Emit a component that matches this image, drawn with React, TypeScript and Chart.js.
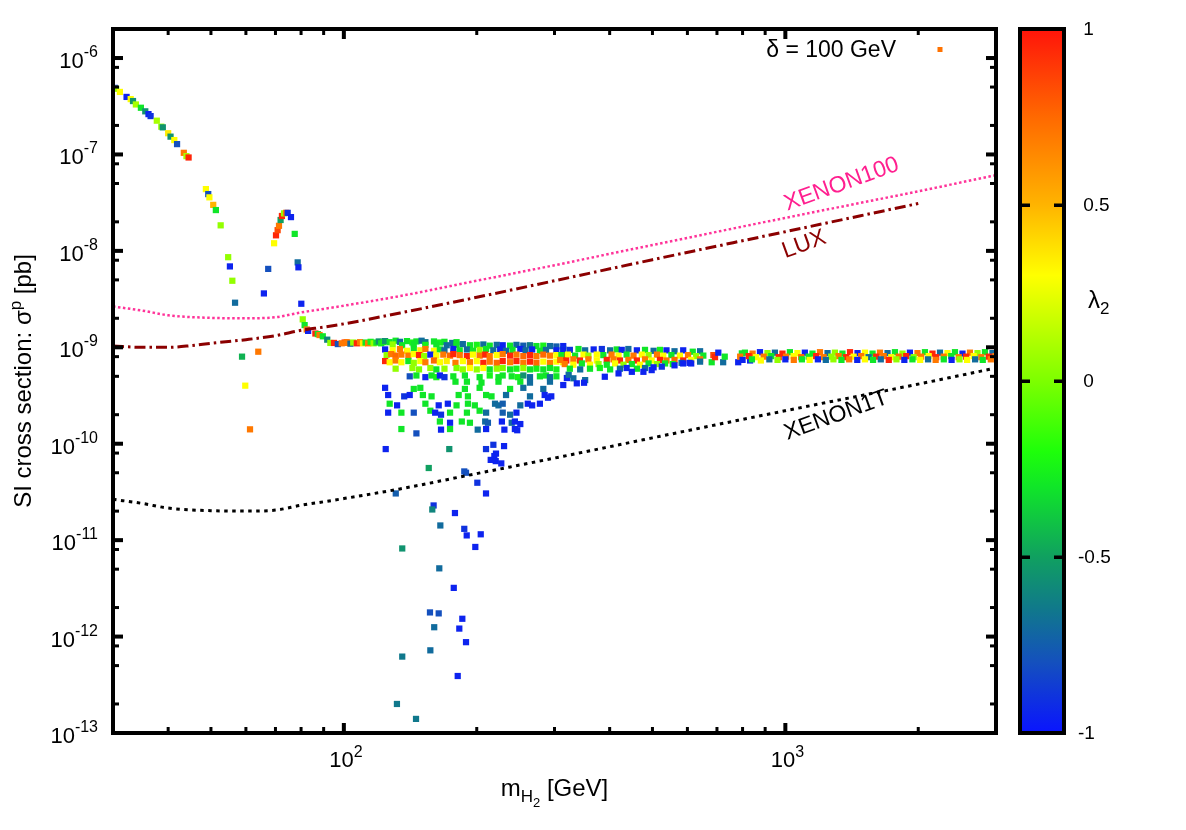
import React, { useEffect, useRef } from 'react';
import { Chart, registerables } from 'chart.js';

Chart.register(...registerables);

const FONT = '"Liberation Sans", Arial, Helvetica, sans-serif';

// Each point: [m_H2 (GeV), sigma_p (pb), lambda_2]
const steepBranch: number[][] = [
  [30.3, 4.9e-7, -0.95], [30.5, 4.8e-7, 0.05], [31.1, 4.45e-7, 0.3], [32.2, 3.95e-7, -0.95],
  [32.9, 3.75e-7, 0.3], [33.3, 3.58e-7, -0.55], [33.8, 3.3e-7, 0.1], [34.7, 3.05e-7, -0.3],
  [35.5, 2.8e-7, -0.55], [36.1, 2.62e-7, -0.95], [36.5, 2.5e-7, -0.9], [37.7, 2.24e-7, 0.1],
  [38.6, 1.94e-7, 0.05], [38.9, 1.91e-7, -0.55], [40.0, 1.66e-7, 0.35], [40.5, 1.53e-7, -0.55],
  [41.3, 1.41e-7, 0.3], [41.9, 1.28e-7, -0.8], [43.4, 1.04e-7, 0.7], [44.0, 9.6e-8, 0.1],
  [44.5, 9.3e-8, 0.95],
];

const fallBranch: number[][] = [
  [48.7, 4.37e-8, 0.3], [49.3, 3.88e-8, -0.8], [49.6, 3.59e-8, 0.3], [50.6, 3.0e-8, 0.5],
  [51.3, 2.65e-8, -0.3], [52.6, 1.84e-8, 0.05], [54.7, 8.6e-9, 0.05], [55.2, 6.9e-9, -0.95],
  [55.9, 4.9e-9, 0.05], [56.7, 2.9e-9, -0.7], [58.8, 8.0e-10, -0.45], [59.8, 4.0e-10, 0.3],
  [61.3, 1.41e-10, 0.7], [64.0, 9.0e-10, 0.7],
];

const resonanceBranch: number[][] = [
  [65.9, 3.62e-9, -0.95], [67.4, 6.5e-9, -0.8], [69.5, 1.2e-8, 0.3], [70.2, 1.45e-8, 0.95],
  [70.8, 1.64e-8, 0.85], [71.3, 1.82e-8, 0.7], [71.9, 2.09e-8, -0.5], [72.4, 2.3e-8, 0.95],
  [73.2, 2.45e-8, 0.05], [74.0, 2.48e-8, 0.7], [74.6, 2.48e-8, -0.9], [75.9, 2.24e-8, -0.95],
  [77.4, 1.5e-8, -0.3], [78.6, 7.6e-9, -0.7], [78.9, 6.75e-9, -0.95], [80.1, 2.83e-9, -0.95],
  [80.7, 1.95e-9, 0.05], [81.5, 1.7e-9, -0.3], [82.4, 1.53e-9, 0.7], [83.0, 1.48e-9, -0.95],
  [86.2, 1.39e-9, 0.95], [87.3, 1.37e-9, -0.3], [88.1, 1.34e-9, 0.7], [89.6, 1.3e-9, -0.3],
  [91.7, 1.2e-9, -0.6], [93.2, 1.11e-9, 0.05], [95.0, 1.11e-9, 0.95], [96.9, 1.08e-9, -0.8],
  [100.4, 1.12e-9, 0.95], [102.0, 1.11e-9, 0.7],
];

const plateau: number[][] = [
  [98.9, 1.1e-9, 0.7], [101.5, 1.13e-9, 0.7], [103.5, 1.09e-9, -0.7], [105.0, 1.12e-9, 0.05],
  [107.0, 1.1e-9, 0.95], [108.8, 1.13e-9, 0.7], [110.5, 1.1e-9, 0.35], [112.0, 1.12e-9, -0.3],
  [113.5, 1.1e-9, 0.7], [115.0, 1.14e-9, -0.25], [116.8, 1.1e-9, 0.05], [118.5, 1.12e-9, -0.3],
  [120.0, 1.15e-9, -0.55], [121.5, 1.1e-9, -0.3], [123.0, 1.13e-9, -0.25],
];

const bandTop: number[][] = [
  [124, 1.16e-9, -0.55], [127, 1.13e-9, -0.3], [131, 1.17e-9, -0.3], [134, 1.14e-9, -0.7],
  [139, 1.16e-9, -0.3], [143, 1.12e-9, -0.25], [146, 1.15e-9, -0.3], [150, 1.17e-9, -0.7],
  [153, 1.13e-9, -0.65], [160, 1.15e-9, -0.3], [165, 1.12e-9, -0.25], [169, 1.14e-9, -0.3],
  [176, 1.11e-9, -0.7], [180, 1.13e-9, -0.3],
  [129, 1.07e-9, 0.05], [135.5, 1.05e-9, -0.3], [144, 1.08e-9, -0.3], [153, 1.06e-9, -0.25],
  [162, 1.07e-9, -0.3], [171, 1.05e-9, -0.7], [180, 1.06e-9, -0.3], [186, 1.08e-9, -0.7],
  [193, 1.05e-9, -0.3], [200, 1.06e-9, -0.25], [207, 1.07e-9, -0.7], [214, 1.04e-9, -0.3],
  [222, 1.06e-9, -0.7], [229, 1.05e-9, -0.95], [238, 1.04e-9, -0.3], [246, 1.06e-9, -0.7],
  [255, 1.04e-9, -0.75], [264, 1.05e-9, -0.65], [273, 1.03e-9, -0.3], [283, 1.04e-9, -0.25],
  [293, 1.03e-9, -0.7], [303, 1.02e-9, -0.75], [314, 1.03e-9, -0.95],
];

const bandCore: number[][] = [
  [124, 9.5e-10, -0.95], [129, 9.3e-10, 0.3], [134, 9.6e-10, 0.7], [139, 9.2e-10, 0.3],
  [144, 9.5e-10, -0.3], [149, 9.3e-10, 0.35], [153, 9.6e-10, 0.7], [160, 9.2e-10, 0.3],
  [165, 9.5e-10, -0.3], [169, 9.3e-10, -0.7], [177, 9.6e-10, -0.95], [183, 9.3e-10, -0.3],
  [190, 9.5e-10, -0.7], [196, 9.2e-10, -0.3], [203, 9.4e-10, 0.05], [210, 9.6e-10, -0.3],
  [218, 9.3e-10, -0.7], [226, 9.5e-10, -0.95], [233, 9.2e-10, -0.7], [241, 9.4e-10, -0.3],
  [251, 9.6e-10, -0.95], [258, 9.3e-10, -0.7], [267, 9.5e-10, -0.95], [278, 9.2e-10, -0.3],
  [287, 9.4e-10, -0.7], [303, 9.3e-10, -0.95], [314, 9.4e-10, -0.3],
  [125, 8.3e-10, 0.05], [128, 8.5e-10, 0.7], [131, 8.2e-10, 0.75], [135, 8.4e-10, 0.7],
  [140, 8.2e-10, 0.7], [144, 8.5e-10, 0.3], [148, 8.3e-10, 0.95], [152, 8.1e-10, 0.05],
  [157, 8.4e-10, -0.95], [162, 8.2e-10, 0.3], [168, 8.4e-10, 0.7], [174, 8.2e-10, 0.75],
  [177, 8.5e-10, 0.95], [183, 8.3e-10, 0.7], [190, 8.1e-10, 0.95], [196, 8.4e-10, 0.3],
  [203, 8.2e-10, 0.7], [209, 8.4e-10, 0.95], [214, 8.1e-10, 0.7], [222, 8.3e-10, 0.3],
  [229, 8.5e-10, 0.7], [238, 8.2e-10, 0.95], [246, 8.4e-10, 0.7], [255, 8.1e-10, 0.75],
  [264, 8.3e-10, 0.95], [273, 8.1e-10, 0.7], [283, 8.4e-10, 0.75], [293, 8.2e-10, 0.7],
  [303, 8.3e-10, 0.3], [314, 8.1e-10, 0.95],
  [124, 7.2e-10, 0.95], [127, 7.0e-10, 0.3], [131, 7.3e-10, 0.7], [135, 7.0e-10, 0.3],
  [140, 7.2e-10, -0.3], [144, 6.9e-10, 0.05], [149, 7.2e-10, 0.3], [153, 7.0e-10, 0.7],
  [160, 7.3e-10, 0.75], [165, 7.0e-10, 0.3], [171, 7.2e-10, 0.35], [179, 6.9e-10, 0.7],
  [186, 7.2e-10, 0.3], [193, 7.0e-10, 0.7], [200, 7.2e-10, 0.3], [207, 6.9e-10, 0.95],
  [214, 7.1e-10, 0.7], [222, 6.9e-10, 0.75], [229, 7.2e-10, 0.95], [238, 7.0e-10, 0.7],
  [246, 7.2e-10, 0.95], [255, 6.9e-10, 0.7], [264, 7.1e-10, 0.95], [273, 6.9e-10, 0.75],
  [283, 7.1e-10, 0.3], [293, 6.9e-10, 0.7], [303, 7.1e-10, 0.3], [314, 7.0e-10, 0.35],
];

const bandLower: number[][] = [
  [131, 6.0e-10, 0.05], [143, 6.1e-10, 0.05], [148, 5.9e-10, 0.0], [157, 6.1e-10, 0.05],
  [162, 5.9e-10, -0.3], [169, 6.0e-10, 0.05], [180, 6.1e-10, 0.0], [186, 5.9e-10, 0.05],
  [193, 6.1e-10, 0.3], [200, 5.9e-10, 0.05], [207, 6.1e-10, 0.3], [214, 5.9e-10, -0.3],
  [222, 6.0e-10, 0.05], [229, 6.1e-10, 0.0], [238, 5.9e-10, -0.3], [246, 6.0e-10, -0.25],
  [255, 6.1e-10, 0.05], [264, 5.9e-10, -0.3], [273, 6.0e-10, -0.25], [283, 5.9e-10, -0.3],
  [293, 6.1e-10, -0.3], [303, 5.9e-10, -0.25],
  [141, 5.0e-10, -0.8], [146, 5.1e-10, -0.3], [153, 4.9e-10, -0.95], [158, 5.1e-10, -0.3],
  [162, 4.9e-10, -0.25], [165, 5.1e-10, -0.95], [169, 4.9e-10, -0.9], [177, 5.0e-10, -0.3],
  [188, 5.1e-10, -0.3], [203, 4.9e-10, -0.3], [214, 5.1e-10, -0.25], [224, 4.9e-10, -0.3],
  [229, 5.1e-10, -0.3], [240, 5.0e-10, -0.3], [248, 4.9e-10, -0.25], [255, 5.1e-10, -0.55],
  [264, 4.9e-10, -0.7], [278, 5.0e-10, -0.3], [287, 5.1e-10, -0.3], [293, 4.9e-10, -0.7],
  [303, 5.0e-10, -0.3], [320, 4.8e-10, -0.95], [323, 5.2e-10, -0.7],
  [179, 4.4e-10, -0.3], [190, 4.4e-10, -0.3], [205, 4.3e-10, -0.3], [224, 4.4e-10, -0.3],
  [251, 4.4e-10, -0.3], [264, 4.3e-10, -0.7], [293, 4.4e-10, -0.7],
];

const scatterBelow: number[][] = [
  [124, 3.8e-10, -0.95], [144, 3.7e-10, -0.3], [149, 3.8e-10, -0.3], [188, 3.7e-10, -0.3],
  [203, 3.8e-10, -0.3], [238, 3.7e-10, -0.3], [255, 3.8e-10, -0.7], [283, 3.7e-10, -0.7],
  [126, 3.2e-10, -0.95], [137, 3.1e-10, -0.9], [141, 3.2e-10, -0.95], [151, 3.2e-10, -0.3],
  [158, 3.1e-10, -0.3], [182, 3.2e-10, -0.3], [191, 3.1e-10, -0.3], [210, 3.2e-10, -0.3],
  [216, 3.1e-10, -0.3], [233, 3.2e-10, -0.7], [264, 3.1e-10, -0.7], [285, 3.2e-10, -0.95],
  [290, 3.0e-10, -0.95], [295, 3.1e-10, -0.95],
  [127, 2.6e-10, -0.3], [132, 2.5e-10, -0.95], [153, 2.6e-10, -0.3], [164, 2.5e-10, -0.95],
  [172, 2.6e-10, -0.95], [180, 2.5e-10, -0.3], [191, 2.6e-10, -0.3], [198, 2.5e-10, -0.3],
  [220, 2.6e-10, -0.7], [224, 2.5e-10, -0.7], [229, 2.6e-10, -0.75], [251, 2.5e-10, -0.7],
  [261, 2.6e-10, -0.95], [267, 2.5e-10, -0.95], [278, 2.6e-10, -0.95],
  [126, 2.1e-10, -0.95], [135, 2.1e-10, -0.3], [144, 2.1e-10, -0.8], [157, 2.2e-10, -0.3],
  [161, 2.1e-10, -0.95], [166, 2.0e-10, -0.9], [174, 2.1e-10, -0.3], [190, 2.1e-10, -0.3],
  [203, 2.2e-10, -0.3], [210, 2.1e-10, -0.7], [229, 2.1e-10, -0.75], [238, 2.0e-10, -0.7],
  [246, 2.1e-10, -0.95],
  [165, 1.7e-10, -0.3], [174, 1.65e-10, -0.95], [185, 1.7e-10, -0.3], [193, 1.65e-10, -0.3],
  [209, 1.7e-10, -0.7], [212, 1.65e-10, -0.75], [228, 1.7e-10, -0.95], [240, 1.65e-10, -0.7],
  [244, 1.7e-10, -0.95], [251, 1.6e-10, -0.95],
  [135, 1.42e-10, -0.3], [166, 1.4e-10, -0.95], [174, 1.42e-10, -0.3], [201, 1.4e-10, -0.7],
  [210, 1.42e-10, -0.95], [231, 1.4e-10, -0.95], [244, 1.42e-10, -0.95], [247, 1.38e-10, -0.95],
  [146, 1.28e-10, -0.8],
];

const deepTail: number[][] = [
  [124.4, 8.8e-11, -0.95], [173.3, 8.8e-11, -0.55], [155.7, 5.6e-11, -0.5], [209.9, 8.8e-11, -0.9],
  [218.1, 9.75e-11, -0.9], [230.6, 9.45e-11, -0.95], [221.1, 7.9e-11, -0.95], [219.2, 7.45e-11, -0.95],
  [215.1, 6.8e-11, -0.95], [220.8, 6.6e-11, -0.95], [227.3, 6.25e-11, -0.95], [187.4, 5.16e-11, -0.8],
  [189.1, 5.0e-11, -0.8], [200.6, 3.94e-11, -0.9], [209.9, 3.05e-11, -0.95], [131.1, 3.05e-11, -0.75],
  [159.7, 2.29e-11, -0.9], [158.6, 2.08e-11, -0.6], [178.5, 1.91e-11, -0.95], [165.4, 1.42e-11, -0.7],
  [187.4, 1.31e-11, -0.9], [189.8, 1.12e-11, -0.95], [204.2, 1.15e-11, -0.95], [198.5, 8.5e-12, -0.95],
  [135.6, 8.2e-12, -0.55], [164.5, 5.1e-12, -0.7], [177.4, 3.2e-12, -0.95], [156.7, 1.78e-12, -0.8],
  [164.0, 1.74e-12, -0.8], [185.5, 1.53e-12, -0.95], [160.2, 1.25e-12, -0.7], [182.6, 1.21e-12, -0.95],
  [189.1, 8.75e-13, -0.95], [157.0, 7.2e-13, -0.7], [135.6, 6.2e-13, -0.65], [181.1, 3.9e-13, -0.95],
  [131.9, 2.0e-13, -0.65], [145.7, 1.4e-13, -0.65],
];

const midBand: number[][] = [
  [314, 9.5e-10, -0.95], [325, 9.4e-10, -0.9], [340, 9.6e-10, -0.3], [352, 9.3e-10, -0.7],
  [368, 9.5e-10, -0.95], [384, 9.6e-10, -0.9], [401, 9.3e-10, -0.7], [415, 9.5e-10, -0.3],
  [426, 9.4e-10, -0.95], [441, 9.6e-10, -0.7], [461, 9.3e-10, -0.95], [481, 9.4e-10, -0.3],
  [503, 9.2e-10, -0.7], [520, 9.4e-10, -0.25], [538, 9.3e-10, -0.95], [561, 9.1e-10, -0.7],
  [587, 9.3e-10, -0.95], [617, 9.0e-10, -0.3], [641, 9.1e-10, -0.7],
  [311, 8.3e-10, -0.3], [322, 8.4e-10, 0.3], [334, 8.2e-10, -0.3], [349, 8.4e-10, 0.3],
  [358, 8.2e-10, 0.05], [374, 8.4e-10, 0.3], [387, 8.3e-10, -0.3], [404, 8.4e-10, 0.7],
  [419, 8.2e-10, 0.3], [437, 8.4e-10, -0.3], [453, 8.2e-10, 0.7], [473, 8.4e-10, 0.3],
  [490, 8.3e-10, 0.05], [512, 8.4e-10, 0.7], [529, 8.2e-10, 0.3], [552, 8.3e-10, -0.3],
  [577, 8.2e-10, 0.3], [602, 8.3e-10, 0.7], [628, 8.1e-10, 0.05], [652, 8.2e-10, -0.3],
  [309, 7.4e-10, 0.7], [319, 7.3e-10, 0.95], [331, 7.5e-10, 0.7], [342.6, 7.3e-10, 0.95],
  [358, 7.5e-10, 0.7], [374, 7.3e-10, 0.3], [394, 7.4e-10, 0.95], [408, 7.5e-10, 0.7],
  [422, 7.3e-10, 0.95], [441, 7.4e-10, 0.7], [461, 7.3e-10, 0.95], [481, 7.5e-10, 0.7],
  [498, 7.3e-10, 0.3], [520, 7.4e-10, 0.95], [538, 7.3e-10, 0.7], [561, 7.4e-10, 0.75],
  [587, 7.3e-10, 0.95], [612, 7.4e-10, 0.3], [641, 7.5e-10, 0.7],
  [316.5, 6.7e-10, 0.7], [331, 6.6e-10, 0.3], [346, 6.8e-10, -0.3], [361, 6.6e-10, 0.3],
  [377.5, 6.7e-10, 0.05], [394, 6.6e-10, -0.3], [411.5, 6.8e-10, 0.3], [430, 6.6e-10, 0.05],
  [449, 6.7e-10, -0.3], [468.6, 6.6e-10, 0.3], [490, 6.8e-10, -0.3], [512, 6.7e-10, 0.05],
  [534, 6.8e-10, -0.3], [556, 6.7e-10, -0.25], [582, 6.9e-10, -0.7], [607, 6.9e-10, -0.95],
  [325, 6.0e-10, -0.3], [343, 5.9e-10, -0.7], [361, 6.0e-10, -0.3], [380, 6.1e-10, -0.25],
  [401, 5.9e-10, -0.3], [422, 6.0e-10, -0.7], [437, 6.1e-10, -0.95], [461, 6.0e-10, -0.3],
  [481, 6.1e-10, -0.7], [503, 6.2e-10, -0.95], [525, 6.3e-10, -0.9],
  [314, 4.06e-10, -0.95], [331, 4.77e-10, -0.7], [337, 4.23e-10, -0.95], [352, 4.57e-10, -0.7],
  [350, 4.29e-10, -0.95], [390, 4.95e-10, -0.95], [419, 5.36e-10, -0.95], [449, 5.57e-10, -0.95],
  [477, 5.57e-10, -0.95], [498, 5.8e-10, -0.95], [561, 6.5e-10, -0.95], [587, 6.8e-10, -0.95],
  [612, 6.8e-10, -0.95], [641, 7.1e-10, -0.7],
  [681, 7.0e-10, -0.3], [687, 8.3e-10, 0.85], [693, 7.9e-10, 0.95], [705, 8.8e-10, -0.95],
  [723, 7.0e-10, -0.7], [729, 8.0e-10, -0.3], [782, 7.0e-10, -0.95], [797, 8.65e-10, -0.3],
  [832, 7.3e-10, -0.95],
];

const heavyBandTop: number[][] = [
  [810, 8.8e-10, -0.3], [843, 8.6e-10, 0.7], [876, 8.9e-10, -0.95], [911, 8.7e-10, 0.05],
  [947, 8.8e-10, -0.7], [985, 8.6e-10, 0.95], [1024, 8.9e-10, -0.3], [1065, 8.7e-10, 0.3],
  [1107, 8.8e-10, -0.95], [1152, 8.6e-10, -0.3], [1198, 8.9e-10, 0.7], [1246, 8.7e-10, -0.7],
  [1295, 8.8e-10, 0.05], [1347, 8.6e-10, -0.3], [1401, 8.9e-10, 0.95], [1457, 8.7e-10, -0.95],
  [1515, 8.8e-10, 0.3], [1576, 8.6e-10, -0.3], [1638, 8.8e-10, 0.7], [1704, 8.7e-10, -0.7],
  [1771, 8.9e-10, -0.3], [1842, 8.6e-10, 0.05], [1915, 8.8e-10, -0.95], [1992, 8.7e-10, 0.7],
  [2071, 8.9e-10, -0.3], [2154, 8.6e-10, 0.95], [2240, 8.8e-10, -0.7], [2329, 8.7e-10, 0.3],
  [2422, 8.9e-10, -0.3], [2519, 8.6e-10, -0.95], [2619, 8.8e-10, 0.7], [2724, 8.7e-10, 0.05],
  [2832, 8.9e-10, -0.3], [2945, 8.7e-10, -0.7],
];

const heavyBandMid: number[][] = [
  [790, 8.0e-10, 0.7], [826, 8.1e-10, 0.95], [859, 7.9e-10, 0.3], [893, 8.0e-10, 0.7],
  [929, 8.1e-10, -0.3], [966, 7.9e-10, 0.95], [1004, 8.0e-10, 0.7], [1044, 8.1e-10, 0.3],
  [1086, 7.9e-10, 0.75], [1129, 8.0e-10, -0.3], [1174, 8.1e-10, 0.95], [1221, 7.9e-10, 0.7],
  [1270, 8.0e-10, 0.05], [1320, 8.1e-10, 0.7], [1373, 7.9e-10, 0.95], [1428, 8.0e-10, 0.3],
  [1485, 8.1e-10, 0.7], [1544, 7.9e-10, -0.7], [1606, 8.0e-10, 0.95], [1670, 8.1e-10, 0.7],
  [1737, 7.9e-10, 0.3], [1806, 8.0e-10, 0.75], [1878, 8.1e-10, 0.95], [1953, 7.9e-10, 0.05],
  [2031, 8.0e-10, 0.7], [2112, 8.1e-10, 0.3], [2196, 7.9e-10, 0.95], [2284, 8.0e-10, 0.7],
  [2375, 8.1e-10, -0.3], [2470, 7.9e-10, 0.7], [2568, 8.0e-10, 0.95], [2671, 8.1e-10, 0.3],
  [2778, 7.9e-10, 0.7], [2889, 8.0e-10, 0.95], [2990, 8.1e-10, 0.7],
];

const heavyBandLow: number[][] = [
  [800, 7.4e-10, -0.95], [840, 7.5e-10, -0.3], [880, 7.3e-10, 0.3], [920, 7.5e-10, -0.7],
  [960, 7.4e-10, 0.05], [1000, 7.5e-10, -0.95], [1045, 7.4e-10, 0.7], [1090, 7.5e-10, -0.3],
  [1135, 7.4e-10, 0.3], [1185, 7.5e-10, -0.95], [1235, 7.4e-10, -0.7], [1285, 7.5e-10, 0.05],
  [1340, 7.4e-10, -0.3], [1395, 7.5e-10, 0.7], [1455, 7.4e-10, -0.95], [1515, 7.5e-10, 0.3],
  [1580, 7.4e-10, -0.3], [1645, 7.5e-10, -0.7], [1715, 7.4e-10, 0.95], [1785, 7.5e-10, 0.05],
  [1860, 7.4e-10, -0.95], [1940, 7.5e-10, -0.3], [2020, 7.4e-10, 0.3], [2105, 7.5e-10, -0.7],
  [2190, 7.4e-10, 0.7], [2285, 7.5e-10, -0.3], [2380, 7.4e-10, -0.95], [2480, 7.5e-10, 0.05],
  [2580, 7.4e-10, 0.3], [2690, 7.5e-10, -0.7], [2800, 7.4e-10, -0.3], [2920, 7.5e-10, 0.7],
];

// Experimental limits: [m (GeV), sigma (pb)]
const xenon100Limit: number[][] = [
  [30, 2.65e-9], [35, 2.4e-9], [40, 2.15e-9], [50, 2.02e-9], [60, 2.0e-9], [70, 2.05e-9],
  [80, 2.3e-9], [90, 2.5e-9], [100, 2.7e-9], [134, 3.4e-9], [200, 4.9e-9], [300, 7.1e-9],
  [500, 1.15e-8], [1000, 2.2e-8], [2000, 4.15e-8], [3000, 6.1e-8],
];
const luxLimit: number[][] = [
  [30, 1.03e-9], [35, 1.0e-9], [40, 1.0e-9], [45, 1.04e-9], [50, 1.1e-9], [60, 1.2e-9],
  [70, 1.32e-9], [80, 1.5e-9], [90, 1.62e-9], [100, 1.75e-9], [134, 2.27e-9], [200, 3.3e-9],
  [300, 4.9e-9], [500, 8.1e-9], [1000, 1.58e-8], [2000, 3.1e-8],
];
const xenon1tLimit: number[][] = [
  [30, 2.65e-11], [35, 2.4e-11], [40, 2.15e-11], [50, 2.02e-11], [60, 2.0e-11], [70, 2.05e-11],
  [80, 2.3e-11], [90, 2.5e-11], [100, 2.7e-11], [134, 3.4e-11], [200, 4.9e-11], [300, 7.1e-11],
  [500, 1.15e-10], [1000, 2.2e-10], [2000, 4.15e-10], [3000, 6.1e-10],
];

const yTickExponents = [-13, -12, -11, -10, -9, -8, -7, -6];
const yMinorMultipliers = [2, 5, 8];
const xTickExponents = [2, 3];
const xMinorDecades = [10, 100, 1000];
const xMinorMultipliers = [2, 3, 4, 5, 6, 7, 8, 9];
const colorbarTicks = [1, 0.5, 0, -0.5, -1];
const colorbarLabels = [' 1', ' 0.5', ' 0', '-0.5', '-1'];

const paletteStops: [number, number[]][] = [
  [-1, [10, 20, 255]], [-0.8, [20, 80, 190]], [-0.65, [16, 120, 140]], [-0.5, [16, 160, 96]],
  [-0.3, [16, 230, 40]], [-0.2, [30, 255, 10]], [0, [125, 255, 0]], [0.3, [255, 255, 0]],
  [0.5, [255, 180, 0]], [0.75, [255, 105, 0]], [1, [255, 20, 10]],
];

function colorFor(v: number): string {
  const c = Math.max(-1, Math.min(1, v));
  for (let i = 1; i < paletteStops.length; i++) {
    const [v1, c1] = paletteStops[i];
    const [v0, c0] = paletteStops[i - 1];
    if (c <= v1) {
      const t = (c - v0) / (v1 - v0);
      const r = Math.round(c0[0] + (c1[0] - c0[0]) * t);
      const g = Math.round(c0[1] + (c1[1] - c0[1]) * t);
      const b = Math.round(c0[2] + (c1[2] - c0[2]) * t);
      return `rgb(${r},${g},${b})`;
    }
  }
  return 'rgb(255,20,10)';
}

type Seg = { t: string; size: number; dy: number };
function drawRich(ctx: CanvasRenderingContext2D, segs: Seg[], x: number, y: number, align: 'left' | 'center' | 'right') {
  const widths = segs.map((s) => {
    ctx.font = `${s.size}px ${FONT}`;
    return ctx.measureText(s.t).width;
  });
  const total = widths.reduce((a, b) => a + b, 0);
  let cx = align === 'left' ? x : align === 'center' ? x - total / 2 : x - total;
  ctx.textAlign = 'left';
  ctx.textBaseline = 'alphabetic';
  segs.forEach((s, i) => {
    ctx.font = `${s.size}px ${FONT}`;
    ctx.fillText(s.t, cx, y + s.dy);
    cx += widths[i];
  });
}

export default function App() {
  const ref = useRef<HTMLCanvasElement>(null);

  useEffect(() => {
    document.body.style.margin = '0';
    const canvas = ref.current;
    if (!canvas) return;

    const allPoints = [
      ...steepBranch, ...fallBranch, ...resonanceBranch, ...plateau, ...bandTop, ...bandCore,
      ...bandLower, ...scatterBelow, ...deepTail, ...midBand, ...heavyBandTop, ...heavyBandMid, ...heavyBandLow,
    ].map(([x, y, l]) => ({ x, y, l }));
    const toXY = (arr: number[][]) => arr.map(([x, y]) => ({ x, y }));

    const decor = {
      id: 'decor',
      afterDatasetsDraw(chart: any) {
        const { ctx, chartArea: a, scales } = chart;
        const xs = scales.x;
        const ys = scales.y;
        ctx.save();
        // frame
        ctx.strokeStyle = '#000';
        ctx.lineWidth = 4;
        ctx.strokeRect(a.left, a.top, a.right - a.left, a.bottom - a.top);
        ctx.fillStyle = '#000';
        // y ticks
        for (const e of yTickExponents) {
          const y = ys.getPixelForValue(Math.pow(10, e));
          ctx.fillRect(a.left, y - 2, 10, 4);
          ctx.fillRect(a.right - 10, y - 2, 10, 4);
          for (const m of yMinorMultipliers) {
            const v = m * Math.pow(10, e);
            if (v >= ys.max * 0.999) continue;
            const yy = ys.getPixelForValue(v);
            ctx.fillRect(a.left, yy - 1.5, 6, 3);
            ctx.fillRect(a.right - 6, yy - 1.5, 6, 3);
          }
        }
        // x ticks
        for (const e of xTickExponents) {
          const x = xs.getPixelForValue(Math.pow(10, e));
          ctx.fillRect(x - 2, a.bottom - 10, 4, 10);
          ctx.fillRect(x - 2, a.top, 4, 10);
        }
        for (const d of xMinorDecades) {
          for (const m of xMinorMultipliers) {
            const v = m * d;
            if (v <= xs.min * 1.001 || v >= xs.max * 0.999) continue;
            const x = xs.getPixelForValue(v);
            ctx.fillRect(x - 1.5, a.bottom - 6, 3, 6);
            ctx.fillRect(x - 1.5, a.top, 3, 6);
          }
        }
        // y tick labels
        for (const e of yTickExponents) {
          const y = ys.getPixelForValue(Math.pow(10, e));
          drawRich(ctx, [{ t: '10', size: 22, dy: 10 }, { t: String(e), size: 16, dy: -1 }], 98, y, 'right');
        }
        // x tick labels
        for (const e of xTickExponents) {
          const x = xs.getPixelForValue(Math.pow(10, e));
          drawRich(ctx, [{ t: '10', size: 22, dy: 0 }, { t: String(e), size: 16, dy: -10 }], x + 2, 767, 'center');
        }
        // axis titles
        ctx.save();
        ctx.translate(31, (a.top + a.bottom) / 2);
        ctx.rotate(-Math.PI / 2);
        drawRich(ctx, [
          { t: 'SI cross section: \u03c3', size: 24, dy: 0 },
          { t: 'p', size: 17, dy: -10 },
          { t: ' [pb]', size: 24, dy: 0 },
        ], 0, 0, 'center');
        ctx.restore();
        drawRich(ctx, [
          { t: 'm', size: 24, dy: 0 },
          { t: 'H', size: 17, dy: 6 },
          { t: '2', size: 13, dy: 11 },
          { t: ' [GeV]', size: 24, dy: 0 },
        ], (a.left + a.right) / 2, 796, 'center');

        // line labels (rotated)
        const lbl = (text: string, color: string, mx: number, sy: number) => {
          const px = xs.getPixelForValue(mx);
          const py = ys.getPixelForValue(sy);
          ctx.save();
          ctx.translate(px, py);
          ctx.rotate(-20 * Math.PI / 180);
          ctx.fillStyle = color;
          ctx.font = `23px ${FONT}`;
          ctx.textAlign = 'left';
          ctx.textBaseline = 'alphabetic';
          ctx.fillText(text, 0, 0);
          ctx.restore();
        };
        lbl('XENON100', '#ff1f8f', 1010, 2.6e-8);
        lbl('LUX', '#8b0000', 1000, 8.4e-9);
        lbl('XENON1T', '#000000', 1010, 1.09e-10);

        // key
        ctx.fillStyle = '#000';
        ctx.font = `23px ${FONT}`;
        ctx.textAlign = 'right';
        ctx.textBaseline = 'alphabetic';
        ctx.fillText('\u03b4 = 100 GeV', 896, 57);
        ctx.fillStyle = colorFor(0.72);
        ctx.fillRect(937.5, 47, 5, 5);
        ctx.restore();
      },
      afterDraw(chart: any) {
        const { ctx, chartArea: a } = chart;
        const left = 1020;
        const width = 44;
        const top = a.top;
        const bottom = a.bottom;
        ctx.save();
        const grad = ctx.createLinearGradient(0, bottom, 0, top);
        for (const [v, c] of paletteStops) {
          grad.addColorStop((v + 1) / 2, `rgb(${c[0]},${c[1]},${c[2]})`);
        }
        ctx.fillStyle = grad;
        ctx.fillRect(left, top, width, bottom - top);
        ctx.strokeStyle = '#000';
        ctx.lineWidth = 4;
        ctx.strokeRect(left, top, width, bottom - top);
        ctx.fillStyle = '#000';
        colorbarTicks.forEach((v, i) => {
          const y = top + ((1 - v) / 2) * (bottom - top);
          if (v > -1 && v < 1) {
            ctx.fillRect(left, y - 1.5, 10, 3.5);
            ctx.fillRect(left + width - 10, y - 1.5, 10, 3.5);
          }
          ctx.font = `19px ${FONT}`;
          ctx.textAlign = 'left';
          ctx.textBaseline = 'middle';
          ctx.fillText(colorbarLabels[i], 1078, y + 1);
        });
        drawRich(ctx, [{ t: '\u03bb', size: 24, dy: 0 }, { t: '2', size: 17, dy: 6 }], 1088, 308, 'left');
        ctx.restore();
      },
    };

    const chart = new Chart(canvas, {
      type: 'scatter',
      data: {
        datasets: [
          {
            label: 'XENON100', data: toXY(xenon100Limit), showLine: true, borderColor: '#ff3399',
            borderWidth: 2.5, borderDash: [2.5, 2.5], pointRadius: 0, order: 0, cubicInterpolationMode: 'monotone',
          } as any,
          {
            label: 'LUX', data: toXY(luxLimit), showLine: true, borderColor: '#8b0000',
            borderWidth: 3, borderDash: [11, 4, 2.5, 4], pointRadius: 0, order: 0, cubicInterpolationMode: 'monotone',
          } as any,
          {
            label: 'XENON1T', data: toXY(xenon1tLimit), showLine: true, borderColor: '#000000',
            borderWidth: 3, borderDash: [3.5, 4.5], pointRadius: 0, order: 0, cubicInterpolationMode: 'monotone',
          } as any,
          {
            label: 'scan', data: allPoints, pointStyle: 'rect', pointRadius: 4.4, borderWidth: 0,
            backgroundColor: (c: any) => colorFor(c.raw ? c.raw.l : 0), order: 1,
          } as any,
        ],
      },
      options: {
        responsive: false,
        animation: false,
        devicePixelRatio: 1,
        layout: { padding: { top: 29, right: 190, left: 0, bottom: 0 } },
        plugins: { legend: { display: false }, tooltip: { enabled: false } },
        scales: {
          x: {
            type: 'logarithmic', min: 30, max: 3000, bounds: 'data',
            ticks: { display: false }, grid: { display: false }, border: { display: false },
            afterFit: (s: any) => { s.height = 97; },
          },
          y: {
            type: 'logarithmic', min: 1e-13, max: 2e-6, bounds: 'data',
            ticks: { display: false }, grid: { display: false }, border: { display: false },
            afterFit: (s: any) => { s.width = 113; },
          },
        },
      } as any,
      plugins: [decor],
    });
    return () => chart.destroy();
  }, []);

  return (
    <div style={{ position: 'absolute', left: 0, top: 0, width: 1186, height: 830, background: '#fff' }}>
      <canvas ref={ref} width={1186} height={830} style={{ display: 'block' }} />
    </div>
  );
}
